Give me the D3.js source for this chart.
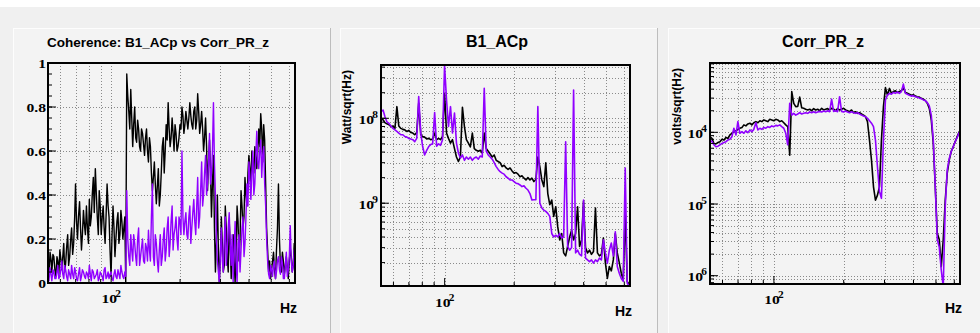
<!DOCTYPE html>
<html><head><meta charset="utf-8">
<script src="https://cdn.jsdelivr.net/npm/d3@7"></script>
<style>body{margin:0;background:#fff}svg{display:block}</style>
</head><body>
<svg id="c" width="980" height="333"></svg>
<script>
// ---------------- data ----------------
const freqHz = [53.0,54.1,55.1,56.2,57.4,58.5,59.7,60.9,62.1,63.3,
64.6,65.9,67.2,68.6,69.9,71.3,72.8,74.2,75.7,77.2,
78.8,80.3,81.9,83.6,85.3,87.0,88.7,90.5,92.3,94.1,
96.0,97.9,99.9,101.9,103.9,106.0,108.1,110.3,112.5,114.7,
117.0,119.4,121.8,124.2,126.7,129.2,131.8,134.4,137.1,139.9,
142.7,145.5,148.4,151.4,154.4,157.5,160.7,163.9,167.2,170.5,
173.9,177.4,180.9,184.6,188.2,192.0,195.8,199.8,203.8,207.8,
212.0,216.2,220.6,225.0,229.5,234.1,238.7,243.5,248.4,253.3,
258.4,263.6,268.9,274.2,279.7,285.3,291.0,296.8,302.8,308.8,
315.0,321.3,327.7,334.3,341.0,347.8,354.7,361.8,369.1,376.5,
384.0,391.7,399.5,407.5,415.6,424.0,432.4,441.1,449.9,458.9,
468.1,477.4,487.0,496.7,506.7,516.8,527.1,537.7,548.4,559.4,
570.6,582.0,593.6,605.5,617.6,630.0,642.6];

// extra coherence sample frequencies, one between each pair above
const cohMidHz = [53.5,54.6,55.7,56.8,58.0,59.1,60.3,61.5,62.7,63.9,
65.2,66.6,67.9,69.3,70.6,72.0,73.5,74.9,76.5,78.0,
79.6,81.1,82.7,84.4,86.2,87.9,89.6,91.4,93.2,95.0,
97.0,98.9,100.9,102.9,104.9,107.1,109.2,111.4,113.6,115.8,
118.2,120.6,123.0,125.4,128.0,130.5,133.1,135.7,138.5,141.3,
144.1,147.0,149.9,152.9,155.9,159.1,162.3,165.5,168.9,172.2,
175.6,179.2,182.7,186.4,190.1,193.9,197.8,201.8,205.8,209.9,
214.1,218.4,222.8,227.3,231.8,236.4,241.1,245.9,250.9,255.8,
261.0,266.2,271.6,276.9,282.5,288.2,293.9,299.8,305.8,311.9,
318.2,324.5,331.0,337.6,344.4,351.3,358.2,365.4,372.8,380.3,
387.8,395.6,403.5,411.6,419.8,428.2,436.7,445.5,454.4,463.5,
472.8,482.2,491.9,501.7,511.8,522.0,532.4,543.1,553.9,565.0,
576.3,587.8,599.6,611.6,623.8,636.3];

const cohBlack = [0.08,0.14,0.05,0.12,0.03,0.10,0.15,0.06,0.18,0.09,
0.22,0.12,0.25,0.18,0.45,0.20,0.37,0.15,0.33,0.22,
0.25,0.38,0.30,0.48,0.52,0.30,0.42,0.22,0.35,0.18,
0.45,0.30,0.03,0.35,0.12,0.28,0.18,0.33,0.20,0.30,
0.95,0.78,0.88,0.62,0.80,0.64,0.70,0.60,0.68,0.58,
0.70,0.55,0.62,0.42,0.55,0.36,0.52,0.40,0.62,0.50,
0.72,0.82,0.62,0.75,0.60,0.68,0.62,0.72,0.80,0.68,
0.78,0.70,0.82,0.72,0.78,0.70,0.86,0.68,0.78,0.60,
0.75,0.42,0.65,0.30,0.58,0.05,0.40,0.00,0.30,0.05,
0.35,0.12,0.28,0.02,0.22,0.00,0.35,0.10,0.42,0.25,
0.48,0.35,0.58,0.45,0.55,0.62,0.52,0.70,0.77,0.55,
0.65,0.25,0.05,0.02,0.10,0.06,0.15,0.45,0.08,0.14,
0.04,0.12,0.02,0.16,0.05,0.18,0.10];

const cohBlackMid = [0.03,0.11,0.13,0.06,0.12,0.04,0.11,0.12,0.05,0.16,
0.08,0.20,0.13,0.30,0.28,0.30,0.25,0.22,0.26,0.35,
0.18,0.26,0.40,0.32,0.40,0.22,0.35,0.30,0.25,0.30,
0.35,0.15,0.22,0.25,0.20,0.32,0.22,0.28,0.25,0.00,
0.85,0.70,0.75,0.72,0.66,0.74,0.62,0.70,0.63,0.66,
0.60,0.66,0.50,0.48,0.45,0.44,0.35,0.50,0.66,0.60,
0.65,0.70,0.66,0.68,0.72,0.60,0.66,0.70,0.76,0.72,
0.74,0.75,0.76,0.70,0.80,0.74,0.78,0.72,0.70,0.66,
0.62,0.55,0.50,0.45,0.25,0.20,0.15,0.12,0.18,0.08,
0.25,0.05,0.18,0.12,0.10,0.15,0.28,0.20,0.35,0.30,
0.40,0.50,0.52,0.60,0.50,0.58,0.60,0.62,0.70,0.72,
0.45,0.15,0.10,0.06,0.14,0.02,0.25,0.20,0.05,0.10,
0.08,0.06,0.10,0.12,0.08,0.14];

const cohPurple = [0.03,0.07,0.01,0.05,0.02,0.08,0.03,0.10,0.02,0.06,
0.01,0.04,0.08,0.02,0.05,0.01,0.07,0.03,0.05,0.02,
0.04,0.08,0.01,0.05,0.03,0.06,0.02,0.04,0.01,0.07,
0.03,0.02,0.05,0.01,0.06,0.02,0.04,0.08,0.03,0.05,
0.42,0.12,0.22,0.10,0.18,0.08,0.25,0.12,0.20,0.09,
0.16,0.24,0.10,0.45,0.08,0.18,0.05,0.22,0.12,0.25,
0.15,0.30,0.18,0.35,0.22,0.30,0.15,0.28,0.60,0.22,
0.32,0.20,0.35,0.25,0.38,0.22,0.48,0.30,0.55,0.40,
0.58,0.45,0.68,0.50,0.82,0.40,0.10,0.00,0.25,0.05,
0.30,0.15,0.32,0.08,0.00,0.28,0.00,0.22,0.15,0.30,
0.18,0.45,0.55,0.38,0.60,0.45,0.69,0.52,0.65,0.58,
0.45,0.20,0.04,0.08,0.03,0.10,0.05,0.12,0.04,0.09,
0.02,0.14,0.06,0.26,0.05,0.15,0.08];

const cohPurpleMid = [0.01,0.04,0.06,0.02,0.05,0.02,0.06,0.04,0.08,0.03,
0.06,0.02,0.04,0.07,0.02,0.04,0.01,0.06,0.03,0.05,
0.02,0.04,0.06,0.02,0.04,0.01,0.05,0.03,0.06,0.02,
0.05,0.04,0.02,0.04,0.03,0.06,0.02,0.05,0.02,0.03,
0.20,0.08,0.15,0.22,0.12,0.20,0.08,0.16,0.10,0.18,
0.10,0.15,0.30,0.12,0.22,0.10,0.15,0.08,0.20,0.10,
0.25,0.12,0.28,0.15,0.25,0.20,0.30,0.22,0.30,0.28,
0.22,0.30,0.18,0.32,0.28,0.35,0.25,0.42,0.35,0.50,
0.40,0.55,0.45,0.60,0.55,0.20,0.05,0.12,0.10,0.20,
0.08,0.25,0.18,0.22,0.15,0.10,0.18,0.05,0.25,0.12,
0.30,0.35,0.48,0.50,0.40,0.58,0.55,0.60,0.48,0.62,
0.35,0.10,0.02,0.06,0.08,0.02,0.10,0.06,0.12,0.02,
0.08,0.03,0.12,0.10,0.08,0.04];

const b1Black = [1.0e-8,9.6e-9,8.9e-9,8.6e-9,8.4e-9,8.0e-9,8.1e-9,7.6e-9,1.37e-8,8.1e-9,
7.6e-9,7.4e-9,7.3e-9,7.0e-9,7.2e-9,6.8e-9,6.7e-9,6.4e-9,6.8e-9,1.5e-8,
6.4e-9,6.1e-9,6.0e-9,5.7e-9,5.8e-9,5.6e-9,5.7e-9,6.7e-9,5.6e-9,5.8e-9,
5.6e-9,6.1e-9,1.97e-8,6.7e-9,5.8e-9,5.1e-9,5.6e-9,4.4e-9,3.5e-9,3.1e-9,
3.5e-9,1.35e-8,8.0e-9,5.6e-9,5.1e-9,4.6e-9,6.7e-9,4.4e-9,4.2e-9,4.1e-9,
4.2e-9,3.9e-9,6.7e-9,4.4e-9,4.1e-9,3.8e-9,3.5e-9,3.7e-9,3.2e-9,3.1e-9,
3.0e-9,2.7e-9,2.8e-9,2.6e-9,2.5e-9,2.6e-9,2.4e-9,2.26e-9,2.3e-9,2.2e-9,
2.05e-9,2.1e-9,1.97e-9,1.88e-9,2.0e-9,1.88e-9,1.97e-9,1.8e-9,1.9e-9,3.5e-9,
2.7e-9,1.88e-9,1.57e-9,3.0e-9,1.3e-9,9.6e-10,1.09e-9,7.0e-10,9.1e-10,5.3e-10,
3.7e-10,4.4e-10,2.6e-10,2.4e-10,3.1e-10,4.0e-10,4.8e-10,3.7e-10,4.4e-10,9.1e-10,
3.1e-10,3.7e-10,1.05e-9,3.0e-10,2.6e-10,2.8e-10,2.5e-10,2.7e-10,8.8e-10,2.6e-10,
2.4e-10,2.5e-10,3.9e-10,2.0e-10,1.3e-10,1.8e-10,1.6e-10,2.15e-10,4.4e-10,2.6e-10,
2.0e-10,1.5e-10,1.25e-10,7.6e-10,1.2e-10,1.1e-10,1.1e-10];

const b1Purple = [1.2e-8,1.25e-8,1.05e-8,9.1e-9,8.7e-9,8.1e-9,7.6e-9,7.3e-9,7.0e-9,6.7e-9,
6.4e-9,6.4e-9,6.1e-9,6.0e-9,5.8e-9,5.7e-9,5.6e-9,5.3e-9,5.8e-9,1.8e-8,
6.7e-9,4.65e-9,3.7e-9,4.2e-9,4.65e-9,4.9e-9,5.0e-9,1.17e-8,4.7e-9,5.0e-9,
4.8e-9,5.6e-9,4.2e-8,1.64e-8,8.0e-9,1.37e-8,6.7e-9,1.15e-8,5.1e-9,3.9e-9,
3.4e-9,3.7e-9,3.2e-9,3.5e-9,3.3e-9,3.5e-9,3.2e-9,3.4e-9,3.5e-9,3.3e-9,
3.6e-9,3.5e-9,2.25e-8,4.1e-9,3.7e-9,3.5e-9,3.3e-9,3.0e-9,2.7e-9,2.5e-9,
2.35e-9,2.26e-9,2.2e-9,2.05e-9,1.97e-9,1.88e-9,1.88e-9,1.8e-9,1.72e-9,1.7e-9,
1.64e-9,1.57e-9,1.6e-9,1.5e-9,1.43e-9,1.3e-9,1.09e-9,1.1e-9,1.1e-9,1.37e-8,
1.0e-9,8.8e-10,8.3e-10,8.0e-10,7.6e-10,7.0e-10,4.4e-10,4.0e-10,4.2e-10,4.0e-10,
4.4e-10,3.9e-10,4.0e-10,5.3e-9,3.1e-10,2.8e-10,3.0e-10,2.15e-8,2.6e-10,2.8e-10,
2.5e-10,2.4e-10,1.09e-9,2.26e-10,2.15e-10,2.05e-10,2.15e-10,1.97e-10,2.15e-10,2.05e-10,
2.26e-10,2.15e-10,3.7e-10,2.6e-10,1.97e-10,2.8e-10,3.4e-10,2.4e-10,4.6e-10,1.8e-10,
1.5e-10,1.3e-10,1.2e-10,2.6e-9,1.15e-10,1.05e-10,1.05e-10];

const corrBlack = [8.7e-5,8.2e-5,7.0e-5,6.9e-5,7.2e-5,7.4e-5,8.0e-5,7.8e-5,8.5e-5,8.2e-5,
9.2e-5,9.7e-5,1.02e-4,1.05e-4,1.1e-4,1.14e-4,1.17e-4,1.27e-4,1.23e-4,1.31e-4,
1.34e-4,1.27e-4,1.36e-4,1.41e-4,1.36e-4,1.45e-4,1.41e-4,1.49e-4,1.45e-4,1.41e-4,
1.52e-4,1.49e-4,1.45e-4,1.52e-4,1.49e-4,1.41e-4,1.45e-4,1.36e-4,1.27e-4,1.2e-4,
4.8e-5,3.7e-4,2.54e-4,2.28e-4,2.3e-4,3.1e-4,2.2e-4,2.16e-4,2.1e-4,2.05e-4,
2.1e-4,2.0e-4,2.14e-4,2.05e-4,2.1e-4,2.0e-4,2.16e-4,2.05e-4,2.1e-4,2.14e-4,
2.05e-4,2.16e-4,2.1e-4,2.0e-4,2.14e-4,2.05e-4,2.1e-4,2.16e-4,2.05e-4,2.0e-4,
1.94e-4,2.05e-4,1.88e-4,1.94e-4,1.84e-4,1.88e-4,1.8e-4,1.74e-4,1.65e-4,1.41e-4,
7.8e-5,4.1e-5,1.74e-5,1.13e-5,1.33e-5,1.74e-5,7.8e-5,2.28e-4,4.2e-4,3.3e-4,
4.1e-4,3.5e-4,3.7e-4,3.8e-4,3.6e-4,3.7e-4,3.8e-4,4.2e-4,3.6e-4,3.5e-4,
3.4e-4,3.3e-4,3.35e-4,3.2e-4,3.14e-4,3.1e-4,2.98e-4,2.9e-4,2.77e-4,2.54e-4,
2.16e-4,1.49e-4,7.0e-5,1.74e-5,3.9e-6,3.2e-6,1.34e-6,3.2e-6,1.13e-5,2.7e-5,
4.1e-5,5.4e-5,6.3e-5,7.4e-5,8.7e-5,1.02e-4,1.1e-4];

const corrPurple = [7.8e-5,7.4e-5,6.7e-5,6.3e-5,6.4e-5,6.7e-5,7.0e-5,7.2e-5,7.4e-5,7.8e-5,
8.0e-5,8.7e-5,1.14e-4,9.2e-5,1.41e-4,9.7e-5,1.02e-4,9.7e-5,1.05e-4,9.9e-5,
1.08e-4,1.02e-4,1.1e-4,1.36e-4,1.08e-4,1.14e-4,1.1e-4,1.17e-4,1.14e-4,1.2e-4,
1.17e-4,1.23e-4,1.2e-4,1.25e-4,1.23e-4,1.27e-4,1.2e-4,1.14e-4,9.7e-5,6.7e-5,
2.54e-4,1.74e-4,1.84e-4,1.74e-4,1.8e-4,1.88e-4,1.8e-4,1.84e-4,1.88e-4,1.84e-4,
1.92e-4,1.88e-4,1.94e-4,1.88e-4,1.92e-4,1.96e-4,1.92e-4,1.98e-4,1.94e-4,2.0e-4,
1.94e-4,2.9e-4,1.96e-4,2.0e-4,1.94e-4,3.14e-4,1.96e-4,1.92e-4,1.98e-4,1.92e-4,
1.88e-4,1.94e-4,1.88e-4,1.84e-4,1.88e-4,1.8e-4,1.74e-4,1.69e-4,1.65e-4,1.57e-4,
1.45e-4,1.34e-4,1.2e-4,7.8e-5,3.3e-5,1.5e-5,1.2e-5,7.8e-5,2.83e-4,3.3e-4,
3.5e-4,3.4e-4,3.6e-4,3.5e-4,3.65e-4,3.5e-4,3.7e-4,4.7e-4,3.5e-4,3.4e-4,
3.3e-4,3.2e-4,3.25e-4,3.14e-4,3.1e-4,3.0e-4,2.95e-4,2.83e-4,2.77e-4,2.6e-4,
2.33e-4,1.74e-4,7.8e-5,1.74e-5,3.2e-6,2.5e-6,1.2e-6,7.0e-7,9.2e-6,3.0e-5,
4.3e-5,5.4e-5,6.3e-5,7.4e-5,8.5e-5,9.9e-5,1.08e-4];

const panelTitles = ["Coherence: B1_ACp vs Corr_PR_z", "B1_ACp", "Corr_PR_z"];
const yAxisTitles = ["", "Watt/sqrt(Hz)", "volts/sqrt(Hz)"];
const xAxisTitle = "Hz";
const freqRange = [53, 635];
const xMajorTicks = [100];
const xMajorExp = ["2"];
const xMinorTicks = [60, 70, 80, 90, 200, 300, 400, 500, 600];
const cohTicks = [0, 0.2, 0.4, 0.6, 0.8, 1];
const cohTickLabels = ["0", "0.2", "0.4", "0.6", "0.8", "1"];
const b1Ticks = [1e-8, 1e-9];
const b1TickExp = ["8", "9"];
const corrTicks = [1e-4, 1e-5, 1e-6];
const corrTickExp = ["4", "5", "6"];

// ---------------- assemble point lists ----------------
function interleave(vals, mids) {
  const out = [];
  freqHz.forEach((f, i) => {
    out.push([f, vals[i]]);
    if (i < cohMidHz.length) out.push([cohMidHz[i], mids[i]]);
  });
  return out;
}
const plain = vals => freqHz.map((f, i) => [f, vals[i]]);

// ---------------- drawing ----------------
const W = 980, H = 333;
const BLACK = "#000", PURPLE = "#9000ff";
const svg = d3.select("#c");
svg.append("rect").attr("width", W).attr("height", H).attr("fill", "#fff");
svg.append("rect").attr("x", 0).attr("y", 7).attr("width", W).attr("height", H - 7).attr("fill", "#f0f0f0");

[{x: 13, w: 318}, {x: 340, w: 318}, {x: 668, w: 320}].forEach(p => {
  svg.append("rect").attr("x", p.x).attr("y", 28).attr("width", p.w).attr("height", H - 28).attr("fill", "#f3f3f3");
  svg.append("line").attr("x1", p.x).attr("x2", p.x + p.w).attr("y1", 28.5).attr("y2", 28.5).attr("stroke", "#fdfdfd");
  svg.append("line").attr("x1", p.x + 0.5).attr("x2", p.x + 0.5).attr("y1", 28).attr("y2", H).attr("stroke", "#fdfdfd");
  svg.append("line").attr("x1", p.x + p.w - 0.5).attr("x2", p.x + p.w - 0.5).attr("y1", 28).attr("y2", H).attr("stroke", "#bdbdbd");
});

const panels = [
  {x0: 48, x1: 295, y0: 63, y1: 283, log: false, dom: [0, 1],
   series: [interleave(cohBlack, cohBlackMid), interleave(cohPurple, cohPurpleMid)], lw: 1.4,
   titleSize: 13.5, titleX: 158, yTitleX: null, xLabY: 303, hzY: 313},
  {x0: 381, x1: 630, y0: 65, y1: 286, log: true, dom: [4.24e-8, 1.06e-10],
   series: [plain(b1Black), plain(b1Purple)], lw: 1.6,
   titleSize: 16, titleX: 497, yTitleX: 351, ticks: b1Ticks, exps: b1TickExp, xLabY: 307, hzY: 316},
  {x0: 710, x1: 960, y0: 63, y1: 284, log: true, dom: [9.27e-4, 7.66e-7],
   series: [plain(corrBlack), plain(corrPurple)], lw: 1.6,
   titleSize: 16, titleX: 823, yTitleX: 681, ticks: corrTicks, exps: corrTickExp, xLabY: 304, hzY: 313}
];

const SERIF = "'Liberation Serif','DejaVu Serif',serif";
const SANS = "'Liberation Sans',Arial,sans-serif";

function powLabel(g, x, y, base, exp, anchor) {
  const t = g.append("text")
    .attr("transform", `translate(${x},${y}) scale(1.2,1)`)
    .attr("text-anchor", anchor)
    .attr("font-family", SERIF).attr("font-weight", "bold").attr("font-size", 13)
    .attr("fill", "#000");
  t.append("tspan").text(base);
  if (exp !== null) {
    t.append("tspan").attr("dx", -1.5).attr("dy", -6).attr("font-size", 9.5).text(exp);
  }
}

panels.forEach((P, pi) => {
  const g = svg.append("g");
  const x = d3.scaleLog().domain(freqRange).range([P.x0, P.x1]);
  const y = P.log ? d3.scaleLog().domain(P.dom).range([P.y0, P.y1])
                  : d3.scaleLinear().domain(P.dom).range([P.y1, P.y0]);

  g.append("rect").attr("x", P.x0).attr("y", P.y0).attr("width", P.x1 - P.x0)
    .attr("height", P.y1 - P.y0).attr("fill", "#f3f3f3");

  const gridStyle = s => s.attr("stroke", "#8a8a8a").attr("stroke-width", 1).attr("stroke-dasharray", "1,2");
  xMinorTicks.concat(xMajorTicks).forEach(v => {
    g.append("line").attr("x1", Math.round(x(v)) + 0.5).attr("x2", Math.round(x(v)) + 0.5)
      .attr("y1", P.y0).attr("y2", P.y1).call(gridStyle);
  });
  let yGridVals, yMinor;
  if (P.log) {
    yGridVals = [];
    const lo = Math.min(...P.dom), hi = Math.max(...P.dom);
    for (let e = -11; e <= -3; e++) for (let k = 1; k <= 9; k++) {
      const v = k * Math.pow(10, e);
      if (v > lo && v < hi) yGridVals.push(v);
    }
    yMinor = yGridVals;
  } else {
    yGridVals = cohTicks.filter(v => v > 0);
    yMinor = d3.range(0, 1.0001, 0.05);
  }
  yGridVals.forEach(v => {
    g.append("line").attr("x1", P.x0).attr("x2", P.x1)
      .attr("y1", Math.round(y(v)) + 0.5).attr("y2", Math.round(y(v)) + 0.5).call(gridStyle);
  });

  const clipId = "clip" + pi;
  svg.append("clipPath").attr("id", clipId).append("rect")
    .attr("x", P.x0).attr("y", P.y0).attr("width", P.x1 - P.x0).attr("height", P.y1 - P.y0);
  const line = d3.line().x(d => x(d[0])).y(d => y(d[1]));
  P.series.forEach((s, si) => {
    g.append("path").datum(s).attr("d", line).attr("fill", "none")
      .attr("stroke", si === 0 ? BLACK : PURPLE).attr("stroke-width", P.lw)
      .attr("stroke-linejoin", "round").attr("clip-path", `url(#${clipId})`);
  });

  const tick = (x1, y1, x2, y2) => g.append("line").attr("x1", x1).attr("y1", y1).attr("x2", x2).attr("y2", y2)
    .attr("stroke", "#000").attr("stroke-width", 1);
  xMinorTicks.forEach(v => tick(x(v), P.y1, x(v), P.y1 - 4));
  xMajorTicks.forEach(v => tick(x(v), P.y1, x(v), P.y1 - 8));
  yMinor.forEach(v => tick(P.x0, y(v), P.x0 + 4, y(v)));
  (P.log ? P.ticks : cohTicks).forEach(v => tick(P.x0, y(v), P.x0 + 8, y(v)));

  g.append("rect").attr("x", P.x0).attr("y", P.y0).attr("width", P.x1 - P.x0)
    .attr("height", P.y1 - P.y0).attr("fill", "none").attr("stroke", "#000").attr("stroke-width", 2);

  if (P.log) {
    P.ticks.forEach((v, i) => powLabel(g, P.x0 - 3, y(v) + 5.5, "10", P.exps[i], "end"));
  } else {
    cohTicks.forEach((v, i) => powLabel(g, P.x0 - 2, y(v) + 4.5, cohTickLabels[i], null, "end"));
  }
  xMajorTicks.forEach((v, i) => powLabel(g, x(v), P.xLabY, "10", xMajorExp[i], "middle"));

  g.append("text").attr("x", P.titleX).attr("y", 47).attr("text-anchor", "middle")
    .attr("font-family", SANS).attr("font-weight", "bold").attr("font-size", P.titleSize)
    .attr("fill", "#000").text(panelTitles[pi]);

  g.append("text").attr("x", P.x1 + 2).attr("y", P.hzY).attr("text-anchor", "end")
    .attr("font-family", SANS).attr("font-weight", "bold").attr("font-size", 14)
    .attr("fill", "#000").text(xAxisTitle);
  if (yAxisTitles[pi]) {
    g.append("text").attr("transform", `translate(${P.yTitleX},${P.y0 + 5}) rotate(-90)`)
      .attr("text-anchor", "end")
      .attr("font-family", SANS).attr("font-weight", "bold").attr("font-size", 12)
      .attr("fill", "#000").text(yAxisTitles[pi]);
  }
});
</script>
</body></html>
